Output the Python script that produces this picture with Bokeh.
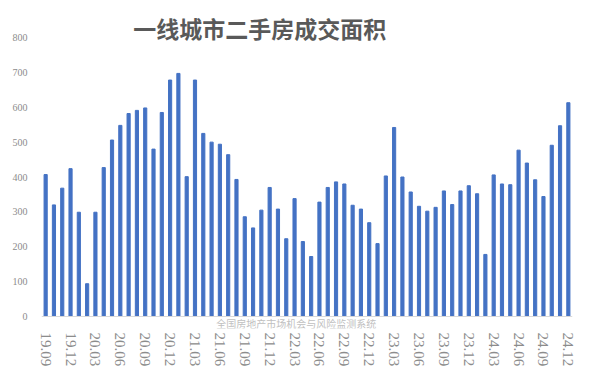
from bokeh.plotting import figure
from bokeh.models import Range1d, FixedTicker, Label, ColumnDataSource, Span
from bokeh.embed import file_html
from bokeh.resources import INLINE

months = ["19.09", "19.10", "19.11", "19.12",
          "20.01", "20.02", "20.03", "20.04", "20.05", "20.06", "20.07", "20.08", "20.09", "20.10", "20.11", "20.12",
          "21.01", "21.02", "21.03", "21.04", "21.05", "21.06", "21.07", "21.08", "21.09", "21.10", "21.11", "21.12",
          "22.01", "22.02", "22.03", "22.04", "22.05", "22.06", "22.07", "22.08", "22.09", "22.10", "22.11", "22.12",
          "23.01", "23.02", "23.03", "23.04", "23.05", "23.06", "23.07", "23.08", "23.09", "23.10", "23.11", "23.12",
          "24.01", "24.02", "24.03", "24.04", "24.05", "24.06", "24.07", "24.08", "24.09", "24.10", "24.11", "24.12"]

area = [407, 320, 368, 424,
        299, 94, 299, 427, 506, 548, 582, 591, 598, 480, 585, 678,
        697, 401, 678, 525, 500, 494, 464, 393, 286, 254, 305, 370,
        308, 223, 338, 215, 172, 328, 370, 386, 380, 319, 308, 269,
        209, 403, 542, 400, 357, 316, 302, 313, 360, 321, 360, 375,
        352, 178, 406, 380, 378, 477, 440, 392, 344, 491, 547, 613]

title_text = "一线城市二手房成交面积"
source_text = "全国房地产市场机会与风险监测系统"
y_ticks = [0, 100, 200, 300, 400, 500, 600, 700, 800]

xs = list(range(len(months)))
src = ColumnDataSource(dict(x=xs, top=area))

# frame spans the canvas from y=2 to y=328 px; 0 at y=316, 800 at y=37
p = figure(width=600, height=383, output_backend="svg", toolbar_location=None,
           x_range=Range1d(-0.5, len(months) - 0.5), y_range=Range1d(-34.41, 900.36),
           min_border_left=41, min_border_right=28, min_border_top=2, min_border_bottom=55)
p.outline_line_color = None
p.background_fill_color = "white"
p.border_fill_color = "white"
p.xgrid.grid_line_color = None
p.ygrid.grid_line_color = None

p.vbar(x="x", top="top", width=0.38, source=src, color="#4472C4")
p.add_layout(Span(location=0, dimension="width", line_color="#D9D9D9", line_width=1))

# x axis
tick_idx = [i for i in xs if i % 3 == 0]
p.xaxis.ticker = FixedTicker(ticks=tick_idx)
p.xaxis.major_label_overrides = {i: months[i] for i in tick_idx}
p.xaxis.major_label_orientation = "vertical"
p.xaxis.axis_line_color = None
p.xaxis.major_tick_line_color = None
p.xaxis.minor_tick_line_color = None
p.xaxis.major_label_text_font = "Liberation Serif"
p.xaxis.major_label_text_font_size = "15px"
p.xaxis.major_label_text_color = "#8C8C8C"
p.xaxis.major_label_standoff = -2

# y axis
p.yaxis.ticker = FixedTicker(ticks=y_ticks)
p.yaxis.axis_line_color = None
p.yaxis.major_tick_line_color = None
p.yaxis.minor_tick_line_color = None
p.yaxis.major_label_text_font = "Liberation Serif"
p.yaxis.major_label_text_font_size = "10px"
p.yaxis.major_label_text_color = "#8C8C8C"
p.yaxis.major_label_standoff = 8

p.add_layout(Label(x=25.8, y=826, text=title_text, text_align="center",
                   text_baseline="middle", text_font="Noto Sans CJK SC", text_font_style="bold",
                   text_font_size="23px", text_color="#595959"))
p.add_layout(Label(x=30.2, y=-20, text=source_text, text_align="center",
                   text_baseline="middle", text_font="Noto Sans CJK SC",
                   text_font_size="10px", text_color="#BFBFBF"))

open("out.html", "w").write(file_html(p, INLINE))
